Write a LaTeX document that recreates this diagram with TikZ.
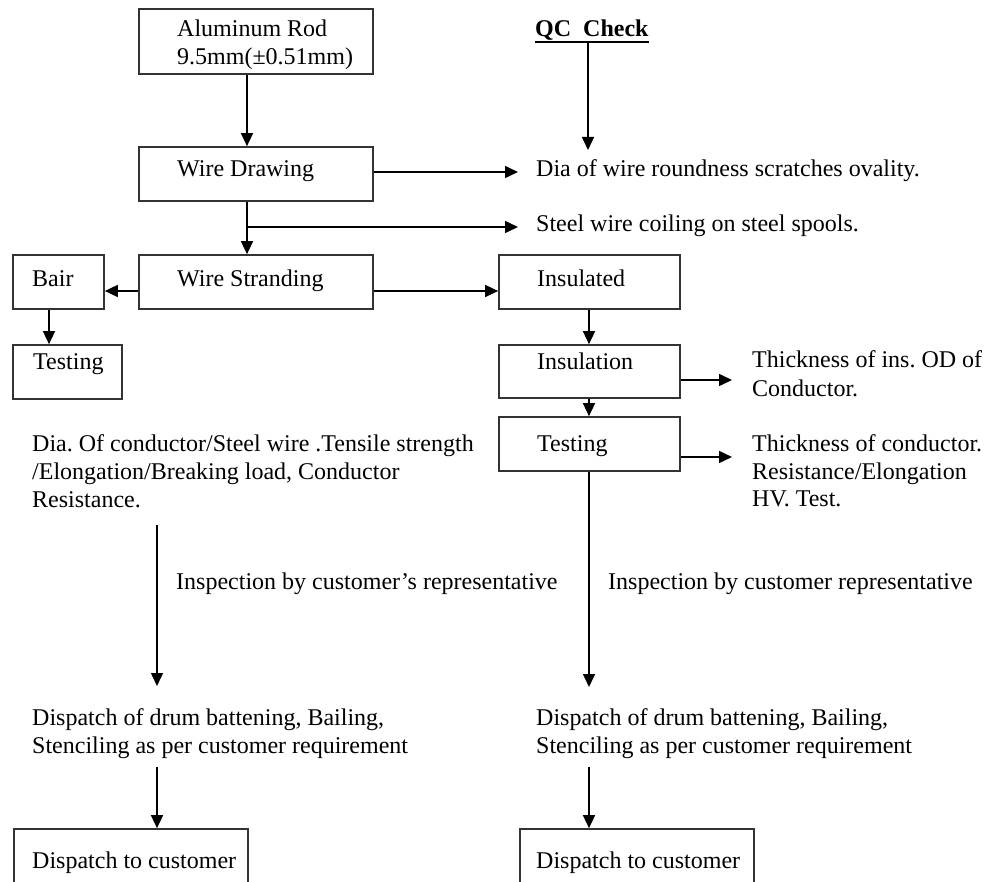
\documentclass[tikz,border=0pt]{standalone}
\usepackage{fontspec}
\setmainfont{Liberation Serif}
\usetikzlibrary{arrows.meta}
\begin{document}
\frenchspacing
\begin{tikzpicture}[x=1pt,y=-1pt,
  box/.style={draw=black!80, line width=1.7pt, rectangle, inner sep=0pt},
  arr/.style={draw, line width=1.6pt, -{Triangle[length=13pt,width=12pt]}},
  txt/.style={anchor=base west, inner sep=0pt, font=\fontsize{24}{28}\selectfont},
]
\useasboundingbox (0,0) rectangle (989,882);
\clip (0,0) rectangle (989,882);

% process boxes
\node[box, minimum width=234pt, minimum height=65pt] (rod)   at (256,41.5) {};
\node[box, minimum width=234pt, minimum height=54pt] (wd)    at (256,174) {};
\node[box, minimum width=234pt, minimum height=54pt] (ws)    at (256,282) {};
\node[box, minimum width=91pt,  minimum height=54pt] (bair)  at (58.5,282) {};
\node[box, minimum width=109pt, minimum height=54pt] (testL) at (67.5,372) {};
\node[box, minimum width=181pt, minimum height=54pt] (insd)  at (589.5,282) {};
\node[box, minimum width=181pt, minimum height=53pt] (insn)  at (589.5,371.5) {};
\node[box, minimum width=181pt, minimum height=54pt] (testR) at (589.5,444) {};
\node[box, minimum width=234pt, minimum height=71pt] (dispL) at (131,864.5) {};
\node[box, minimum width=234pt, minimum height=71pt] (dispR) at (637,864.5) {};

% box labels
\node[txt] (rodA) at (177,37) {Aluminum Rod};
\node[txt] (rodB) at (177,65) {9.5mm(±0.51mm)};
\node[txt] (wdT)  at (177,177) {Wire Drawing};
\node[txt] (wsT)  at (177,287) {Wire Stranding};
\node[txt] (bairT) at (32,287) {Bair};
\node[txt] (testLT) at (33,370) {Testing};
\node[txt] (insdT) at (537,287) {Insulated};
\node[txt] (insnT) at (537,370) {Insulation};
\node[txt] (testRT) at (537,452) {Testing};
\node[txt] (dispLT) at (32,868) {Dispatch to customer};
\node[txt] (dispRT) at (536,868) {Dispatch to customer};

% QC heading
\node[txt, font=\bfseries\fontsize{24}{28}\selectfont, text depth=5pt] (qc) at (535,37) {QC\ \ Check};
\draw[line width=1.8pt] (qc.south west) -- (qc.south east);

% check notes
\node[txt] (n1) at (536,177) {Dia of wire roundness scratches ovality.};
\node[txt] (n2) at (536,232) {Steel wire coiling on steel spools.};
\node[txt] (n3a) at (752,368) {Thickness of ins. OD of};
\node[txt] (n3b) at (752,397) {Conductor.};
\node[txt] (n4a) at (752,452) {Thickness of conductor.};
\node[txt] (n4b) at (752,480) {Resistance/Elongation};
\node[txt] (n4c) at (752,507) {HV. Test.};
\node[txt] (n5a) at (32,452) {Dia. Of conductor/Steel wire .Tensile strength};
\node[txt] (n5b) at (32,480) {/Elongation/Breaking load, Conductor};
\node[txt] (n5c) at (32,508) {Resistance.};
\node[txt] (insL) at (176,590) {Inspection by customer’s representative};
\node[txt] (insR) at (608,590) {Inspection by customer representative};
\node[txt] (dL1) at (32,725) {Dispatch of drum battening, Bailing,};
\node[txt] (dL2) at (32,753) {Stenciling as per customer requirement};
\node[txt] (dR1) at (536,725) {Dispatch of drum battening, Bailing,};
\node[txt] (dR2) at (536,753) {Stenciling as per customer requirement};

% guide lines and free ends
\coordinate (spine) at (247,0);
\coordinate (rcol) at (589,0);
\coordinate (lcol) at (157,0);
\coordinate (row) at (0,291);
\coordinate (qcEnd) at (588,150);
\coordinate (e1) at (518,172);
\coordinate (e2) at (518,227);
\coordinate (e3) at (732,380);
\coordinate (e4) at (732,457);
\coordinate (e5) at (589,687);
\coordinate (s6) at (157,525);
\coordinate (e6) at (157,686);
\coordinate (s7) at (157,767);
\coordinate (s8) at (589,767);

% connectors
\draw[arr] (qc.south -| qcEnd) -- (qcEnd);
\draw[arr] (rod.south -| spine) -- (wd.north -| spine);
\draw[arr] (wd.east |- e1) -- (e1);
\draw[arr] (wd.south -| spine) -- (ws.north -| spine);
\draw[arr] (spine |- e2) -- (e2);
\draw[arr] (ws.west |- row) -- (bair.east |- row);
\draw[arr] (ws.east |- row) -- (insd.west |- row);
\draw[arr] (bair.south -| 49,0) -- (testL.north -| 49,0);
\draw[arr] (insd.south -| rcol) -- (insn.north -| rcol);
\draw[arr] (insn.south -| rcol) -- (testR.north -| rcol);
\draw[arr] (insn.east |- e3) -- (e3);
\draw[arr] (testR.east |- e4) -- (e4);
\draw[arr] (testR.south -| rcol) -- (e5);
\draw[arr] (s6) -- (e6);
\draw[arr] (s7) -- (dispL.north -| lcol);
\draw[arr] (s8) -- (dispR.north -| rcol);
\end{tikzpicture}
\end{document}
